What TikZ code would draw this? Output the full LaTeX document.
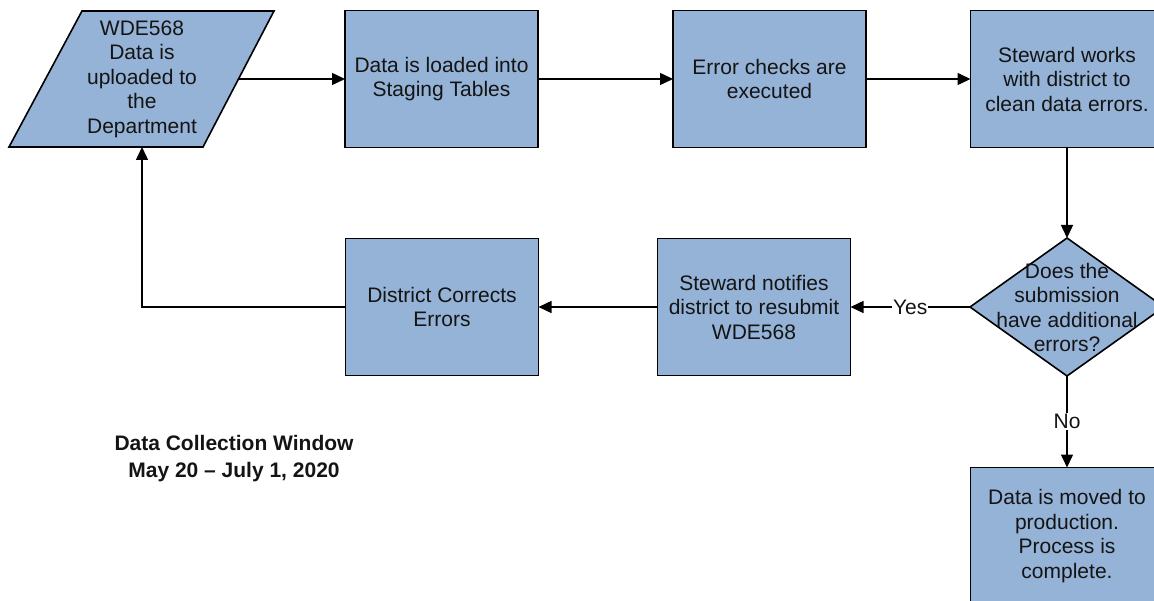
\documentclass[tikz,border=0pt]{standalone}
\usepackage{fontspec}
\setmainfont{Liberation Sans}
\usetikzlibrary{shapes.geometric,arrows.meta}

\definecolor{procfill}{HTML}{95B3D7}
\definecolor{inkline}{HTML}{000000}
\definecolor{inktext}{HTML}{141414}

\tikzset{
  every node/.style={font=\fontsize{21}{24.5}\selectfont, text=inktext, align=center},
  stepbox/.style={draw=inkline, fill=procfill, line width=1.6pt,
    minimum width=193, minimum height=137, inner sep=0pt, outer sep=0pt},
  decision/.style={draw=inkline, fill=procfill, line width=1.6pt, diamond,
    minimum width=194, minimum height=138, inner sep=0pt, outer sep=0pt},
  flow/.style={draw=inkline, line width=1.5pt,
    -{Triangle[length=13pt, width=12pt]}},
  branch/.style={fill=white, inner sep=1pt},
}

\begin{document}
\begin{tikzpicture}[x=1pt, y=-1pt]
  \useasboundingbox (0,0) rectangle (1154,601);
  \clip (0,0) rectangle (1154,601);

  % input / upload parallelogram
  \draw[draw=inkline, fill=procfill, line width=1.6pt]
    (82,11) -- (274,11) -- (203,147) -- (9,147) -- cycle;
  \node (upload) at (142,79) {WDE568\\Data is\\uploaded to\\the\\Department};
  \coordinate (upload-out) at (239,79);
  \coordinate (upload-in) at (142,147);

  % top row of process steps
  \node[stepbox] (load)    at (441.5,79)  {Data is loaded into\\Staging Tables};
  \node[stepbox] (checks)  at (769.5,79)  {Error checks are\\executed};
  \node[stepbox] (clean)   at (1067,79)   {Steward works\\with district to\\clean data errors.};

  % decision
  \node[decision] (more) at (1067,307) {};
  \node (moretext) at (1067,307.5) {Does the\\submission\\have additional\\errors?};

  % lower row
  \node[stepbox] (notify)  at (754,307)  {Steward notifies\\district to resubmit\\WDE568};
  \node[stepbox] (correct) at (442,307)  {District Corrects\\Errors};
  \node[stepbox] (prod)    at (1067,536) {Data is moved to\\production.\\Process is\\complete.};

  % window note
  \node[font=\fontsize{21}{27}\selectfont\bfseries] (window) at (234,459)
    {Data Collection Window\\May 20 -- July 1, 2020};

  % connectors
  \draw[flow] (upload-out) -- (load.west);
  \draw[flow] (load.east) -- (checks.west);
  \draw[flow] (checks.east) -- (clean.west);
  \draw[flow] (clean.south) -- (more.north);
  \draw[flow] (more.west) -- node[branch] (yes) {Yes} (notify.east);
  \draw[flow] (more.south) -- node[branch] (no) {No} (prod.north);
  \draw[flow] (notify.west) -- (correct.east);
  \draw[flow] (correct.west) -| (upload-in);
\end{tikzpicture}
\end{document}
